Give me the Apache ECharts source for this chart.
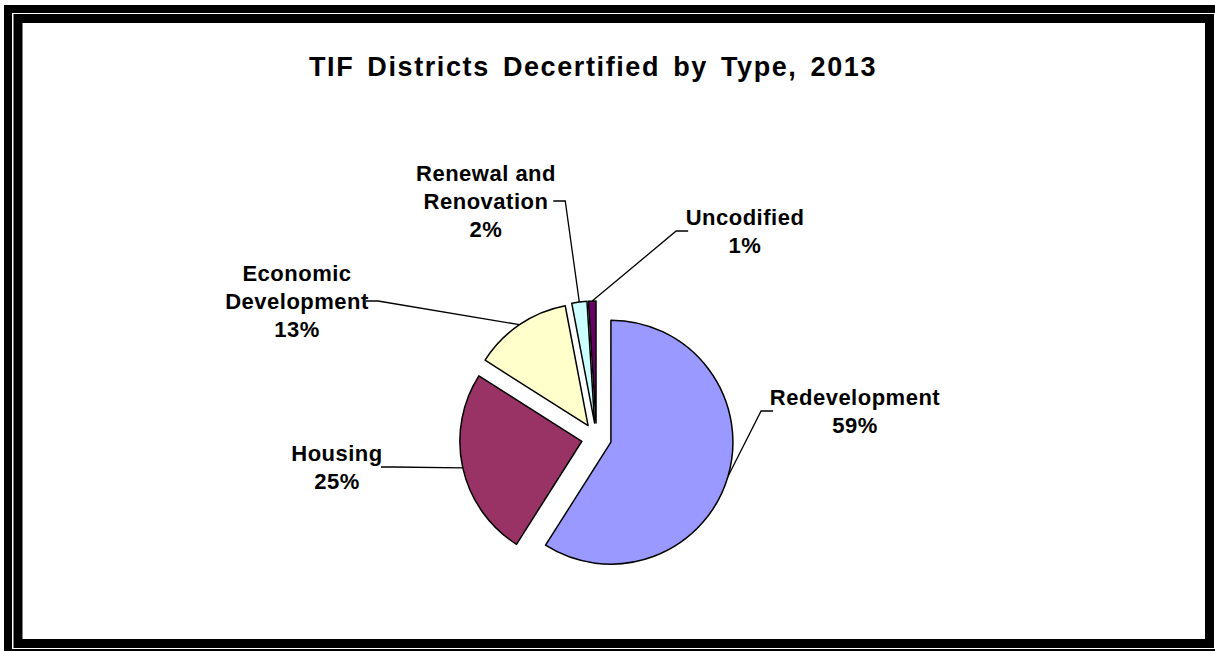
<!DOCTYPE html>
<html style="height: 100%">
<head>
  <meta charset="utf-8">
  <title>TIF Districts Decertified by Type, 2013</title>
  <script src="https://cdn.jsdelivr.net/npm/echarts@6/dist/echarts.min.js"></script>
  <style>
    /* the original Excel text runs a little wider than Liberation Sans */
    #main text { letter-spacing: 0.5px; }
    #main text[style*="27px"] { letter-spacing: 1.6px; word-spacing: 4px; }
  </style>
</head>
<body style="margin:0;height:100%;background:#fff">
  <div id="main" style="width:1215px;height:651px"></div>
  <script>
    var categories = ['Redevelopment', 'Housing', 'Economic Development', 'Renewal and Renovation', 'Uncodified'];
    var shares = [59, 25, 13, 2, 1];

    var sliceColors = ['#9999ff', '#993366', '#ffffcc', '#ccffff', '#660066'];
    // where Excel put each label (centre of the text block)
    var labelSpots = [[855, 411], [337, 467], [297, 301], [486, 201], [745, 231]];
    var wrapAt = { 'Economic Development': 'Economic\nDevelopment', 'Renewal and Renovation': 'Renewal and\nRenovation' };

    var font = 'Liberation Sans';
    var pieCenter = [596.5, 438];
    var explode = 15;

    var chart = echarts.init(document.getElementById('main'), null, { renderer: 'svg' });

    // every slice is pulled out along its own middle angle, so each one gets
    // its own pie series (the rest of that series is left invisible)
    var total = shares.reduce(function (a, b) { return a + b; }, 0);
    var acc = 0;
    var series = categories.map(function (name, i) {
      var mid = (acc + shares[i] / 2) / total * Math.PI * 2;
      acc += shares[i];
      return {
        type: 'pie',
        silent: true,
        center: [pieCenter[0] + explode * Math.sin(mid), pieCenter[1] - explode * Math.cos(mid)],
        radius: 122,
        startAngle: 90,
        clockwise: true,
        emphasis: { disabled: true },
        itemStyle: { borderColor: '#000', borderWidth: 1.5 },
        label: {
          show: true,
          position: 'outside',
          fontFamily: font,
          fontWeight: 'bold',
          fontSize: 22,
          lineHeight: 28,
          color: '#000',
          align: 'center',
          formatter: function (p) {
            return (wrapAt[p.name] || p.name) + '\n' + Math.round(p.percent) + '%';
          }
        },
        labelLine: {
          show: true,
          length: 10,
          length2: 12,
          lineStyle: { color: '#000', width: 1.3 }
        },
        labelLayout: function (p) {
          var s = labelSpots[p.seriesIndex];
          return { x: s[0], y: s[1], align: 'center', verticalAlign: 'middle' };
        },
        data: categories.map(function (n, j) {
          var item = { name: n, value: shares[j] };
          if (j === i) {
            item.itemStyle = { color: sliceColors[j] };
          } else {
            item.itemStyle = { color: 'rgba(0,0,0,0)', borderWidth: 0 };
            item.label = { show: false };
            item.labelLine = { show: false };
          }
          return item;
        })
      };
    });

    chart.setOption({
      animation: false,
      backgroundColor: '#fff',
      title: {
        text: 'TIF Districts Decertified by Type, 2013',
        left: 593,
        top: 53,
        padding: 0,
        textAlign: 'center',
        textStyle: { fontFamily: font, fontWeight: 'bold', fontSize: 27, color: '#000' }
      },
      graphic: [
        { type: 'rect', silent: true, shape: { x: 8, y: 9, width: 1216, height: 644 },
          style: { fill: null, stroke: '#000', lineWidth: 8 } },
        { type: 'rect', silent: true, shape: { x: 18, y: 18.5, width: 1191.5, height: 625 },
          style: { fill: null, stroke: '#000', lineWidth: 9 } }
      ],
      series: series
    });
  </script>
</body>
</html>
